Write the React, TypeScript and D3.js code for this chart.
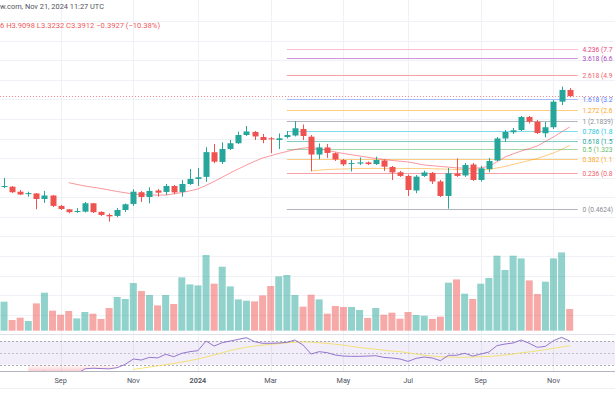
import * as React from 'react';
import * as d3 from 'd3';
import {Component} from 'react';

const chartWidth = 615;
const chartHeight = 410;

// weekly candles from Jul 17 2023 to Nov 18 2024
const weeks: Date[] = d3.timeMonday.range(new Date(2023, 6, 17), new Date(2024, 10, 19));

const opens = [0.679, 0.683, 0.625, 0.604, 0.606, 0.549, 0.584, 0.486, 0.457, 0.441,
    0.439, 0.509, 0.437, 0.414, 0.407, 0.452, 0.503, 0.619, 0.569, 0.638,
    0.622, 0.691, 0.622, 0.716, 0.783, 0.812, 1.256, 1.058, 1.331, 1.473,
    1.704, 1.799, 1.646, 1.607, 1.560, 1.646, 1.690, 1.896, 1.655, 1.206,
    1.368, 1.234, 1.095, 1.019, 1.028, 1.049, 1.019, 1.086, 0.968, 0.881,
    0.826, 0.638, 0.826, 0.871, 0.749, 0.579, 0.863, 0.833, 1.011, 0.769,
    0.932, 1.086, 1.603, 1.789, 1.862, 2.346, 2.158, 1.758, 1.955, 3.075,
    3.784];
const highs = [0.797, 0.691, 0.644, 0.625, 0.609, 0.633, 0.589, 0.494, 0.460, 0.467,
    0.521, 0.512, 0.441, 0.425, 0.467, 0.507, 0.652, 0.633, 0.675, 0.656,
    0.716, 0.703, 0.769, 0.934, 0.951, 1.372, 1.454, 1.499, 1.560, 1.808,
    2.000, 1.830, 1.736, 1.646, 1.751, 1.830, 2.1839, 2.053, 1.704, 1.467,
    1.454, 1.252, 1.115, 1.095, 1.145, 1.067, 1.161, 1.105, 0.985, 0.902,
    0.847, 0.840, 0.906, 0.886, 0.769, 0.951, 1.127, 1.039, 1.039, 0.985,
    1.133, 1.646, 1.862, 1.931, 2.387, 2.387, 2.222, 2.147, 3.166, 4.010,
    3.9098];
const lows = [0.667, 0.611, 0.589, 0.572, 0.458, 0.512, 0.477, 0.452, 0.427, 0.429,
    0.433, 0.429, 0.407, 0.368, 0.398, 0.437, 0.486, 0.521, 0.509, 0.572,
    0.589, 0.599, 0.572, 0.703, 0.691, 0.743, 1.034, 1.021, 1.307, 1.454,
    1.675, 1.560, 1.473, 1.236, 1.331, 1.603, 1.661, 1.560, 0.897, 1.108,
    1.136, 1.076, 0.985, 0.894, 1.002, 1.002, 1.002, 0.902, 0.769, 0.812,
    0.579, 0.609, 0.812, 0.716, 0.569, 0.4624, 0.812, 0.812, 0.756, 0.747,
    0.882, 1.076, 1.507, 1.736, 1.830, 2.090, 1.736, 1.638, 1.896, 2.898,
    3.3232];
const closes = [0.691, 0.619, 0.594, 0.609, 0.549, 0.584, 0.486, 0.460, 0.435, 0.444,
    0.509, 0.435, 0.414, 0.404, 0.452, 0.500, 0.625, 0.569, 0.633, 0.614,
    0.691, 0.617, 0.716, 0.783, 0.807, 1.259, 1.063, 1.331, 1.473, 1.704,
    1.815, 1.661, 1.560, 1.579, 1.607, 1.704, 1.920, 1.675, 1.206, 1.368,
    1.240, 1.105, 1.014, 1.037, 1.050, 1.019, 1.095, 0.973, 0.878, 0.826,
    0.644, 0.816, 0.878, 0.749, 0.579, 0.866, 0.826, 1.002, 0.769, 0.945,
    1.076, 1.603, 1.799, 1.852, 2.346, 2.158, 1.767, 1.955, 3.075, 3.784,
    3.3912];
// volume in millions
const volumes = [29, 10.7, 13, 9.7, 27.3, 38, 20, 16, 19.7, 12.3,
    18.7, 17, 11.7, 22.7, 33.7, 31.7, 47.7, 39.7, 35.7, 25.3,
    35.7, 26.7, 53.3, 46.3, 45.3, 75.7, 47, 64, 44.3, 31.3,
    30, 29.3, 35.3, 44.7, 54.3, 55.7, 35.7, 24, 36, 31.3,
    17, 24.7, 23.7, 23.7, 20.7, 12.7, 22.7, 16, 18, 12,
    18.7, 15.7, 15, 11.7, 14, 48, 51.3, 37, 31.7, 47,
    52.7, 75, 60.7, 75, 72.3, 50.3, 36.7, 49, 72.3, 78.3,
    21.7];
const sma20 = [null, null, null, null, null, null, null, null, 0.733, 0.711,
    0.691, 0.676, 0.661, 0.644, 0.627, 0.613, 0.600, 0.594, 0.589, 0.588,
    0.589, 0.601, 0.616, 0.634, 0.656, 0.699, 0.749, 0.807, 0.871, 0.935,
    1.002, 1.068, 1.135, 1.180, 1.229, 1.272, 1.319, 1.350, 1.372, 1.335,
    1.296, 1.262, 1.229, 1.202, 1.176, 1.150, 1.125, 1.105, 1.086, 1.072,
    1.058, 1.030, 1.002, 0.990, 0.977, 0.965, 0.952, 0.948, 0.943, 0.955,
    0.977, 1.060, 1.155, 1.220, 1.283, 1.340, 1.404, 1.520, 1.646, 1.799,
    1.965];
const sma50 = [null, null, null, null, null, null, null, null, null, null,
    null, null, null, null, null, null, null, null, null, null,
    null, null, null, null, null, null, null, null, null, null,
    null, null, null, null, null, null, null, null, 0.902, 0.914,
    0.926, 0.930, 0.934, 0.938, 0.943, 0.943, 0.943, 0.943, 0.943, 0.943,
    0.943, 0.943, 0.943, 0.938, 0.934, 0.930, 0.926, 0.921, 0.917, 0.921,
    0.926, 0.950, 0.977, 1.012, 1.049, 1.086, 1.125, 1.180, 1.240, 1.319,
    1.416];
const rsi = [null, null, null, 16, 14, 19, 15, 13, 12, 14,
    23, 24, 23.5, 23, 25, 30.6, 39.6, 37.9, 42.4, 41.5,
    47.5, 43.5, 49.2, 52, 53.7, 70, 61.5, 67.2, 70, 72.8,
    75.6, 68.9, 66.1, 66.1, 66.6, 67.7, 71.7, 63.2, 48, 52,
    50.3, 46.3, 44.6, 44.1, 44.1, 44.6, 45.2, 42.4, 41.3, 39.6,
    35.6, 40.7, 43, 41.3, 36.8, 45.8, 45.8, 49.2, 44.6, 48,
    51.4, 62.1, 64.9, 66.6, 71.7, 66.1, 59.3, 61, 70.6, 76.2,
    70];
const rsiMa = [null, null, null, null, null, null, null, null, null, null,
    null, null, null, null, null, null, 22, 24, 26, 28,
    30, 32, 34.5, 37, 39.5, 43, 46.5, 50, 54, 57,
    59.5, 61.5, 63, 64.5, 65.5, 67, 68, 68.5, 68, 67,
    66, 64.5, 63, 61, 59, 57.5, 56, 54.5, 53, 52,
    50, 48, 46, 44.5, 43.5, 43, 42.5, 42.5, 43, 43.5,
    44, 45, 46.5, 48, 50, 51.5, 53.5, 55.5, 57.5, 60,
    62];

const fibRatios = ['0', '0.236', '0.382', '0.5', '0.618', '0.786', '1', '1.272', '1.618', '2.618', '3.618', '4.236'];
const fibPrices = [0.4624, 0.8687, 1.1200, 1.3232, 1.5263, 1.8155, 2.1839, 2.6521, 3.2478, 4.9693, 6.6908, 7.7547];
const fibLineColors = ['#b2b5be', '#f7a1a8', '#ffcc80', '#a5d6a7', '#80cbc4', '#80deea', '#b2b5be', '#ffcc80', '#a8bbff', '#f7a1a8', '#ce93d8', '#f8bbd0'];
const fibTextColors = ['#8a8d96', '#f0606c', '#ffa726', '#66bb6a', '#26a69a', '#26c6da', '#8a8d96', '#ffa726', '#5b7cfa', '#f0606c', '#ab47bc', '#ec407a'];

const monthTicks = [new Date(2023, 8, 4), new Date(2023, 10, 6), new Date(2024, 0, 1), new Date(2024, 2, 4),
    new Date(2024, 4, 6), new Date(2024, 6, 1), new Date(2024, 8, 2), new Date(2024, 10, 4)];
const monthLabels = ['Sep', 'Nov', '2024', 'Mar', 'May', 'Jul', 'Sep', 'Nov'];
const priceGrid = [0.0707, 0.1, 0.1414, 0.2, 0.2828, 0.4, 0.5657, 0.8, 1.1314, 1.6, 2.2627, 3.2, 4.5255, 6.4, 9.051, 12.8];
const rsiLevels = [70, 50, 30];

const headerTop = 'w.com, Nov 21, 2024 11:27 UTC';
const headerOhlc = '6 H3.9098 L3.3232 C3.3912 \u22120.3927 (\u221210.38%)';

const upColor = '#26a69a';
const downColor = '#ef5350';
const font = 'Roboto, sans-serif';
const fibLabelX = 582.5;

export default class App extends Component {
    private svgRef = React.createRef<SVGSVGElement>();

    componentDidMount(): void {
        const svg = d3.select(this.svgRef.current);
        svg.selectAll('*').remove();

        const x = d3.scaleBand<Date>().domain(weeks).range([0, 573.7]);
        const cx = (i: number) => (x(weeks[i]) as number) + x.step() / 2;
        const xDate = (d: Date) => (x(d) as number) + x.step() / 2;
        const yPrice = d3.scaleLog().domain([0.4624, 2.1839]).range([208.7, 121]);
        const yVol = d3.scaleLinear().domain([0, 80]).range([330.7, 250.7]);
        const yRsi = d3.scaleLinear().domain([30, 70]).range([364.7, 341]);

        appendDefs(svg, yRsi);
        appendGrid(svg, xDate, yPrice);
        appendVolume(svg, cx, yVol);
        appendFib(svg, cx, x.step(), yPrice);
        appendAverages(svg, cx, yPrice);
        appendCandles(svg, cx, yPrice);
        appendRsi(svg, cx, yRsi);
        appendTimeAxis(svg, xDate);
        appendHeader(svg);
    }

    render() {
        return (
            <svg ref={this.svgRef} width={chartWidth} height={chartHeight}
                 viewBox={`0 0 ${chartWidth} ${chartHeight}`}
                 style={{position: 'absolute', left: 0, top: 0, background: '#ffffff'}}>
            </svg>
        );
    }
}

function appendDefs(svg: any, yRsi: any) {
    const defs = svg.append('defs');
    defs.append('clipPath').attr('id', 'main-clip')
        .append('rect').attr('x', 0).attr('y', 0).attr('width', chartWidth).attr('height', 334);
    defs.append('clipPath').attr('id', 'rsi-clip')
        .append('rect').attr('x', 0).attr('y', 335).attr('width', chartWidth).attr('height', 36.3);

    const os = defs.append('linearGradient').attr('id', 'oversold')
        .attr('gradientUnits', 'userSpaceOnUse')
        .attr('x1', 0).attr('x2', 0).attr('y1', yRsi(30)).attr('y2', yRsi(0));
    os.append('stop').attr('offset', 0).attr('stop-color', '#f23645').attr('stop-opacity', 0);
    os.append('stop').attr('offset', 1).attr('stop-color', '#f23645').attr('stop-opacity', 0.7);

    const ob = defs.append('linearGradient').attr('id', 'overbought')
        .attr('gradientUnits', 'userSpaceOnUse')
        .attr('x1', 0).attr('x2', 0).attr('y1', yRsi(70)).attr('y2', yRsi(100));
    ob.append('stop').attr('offset', 0).attr('stop-color', '#089981').attr('stop-opacity', 0);
    ob.append('stop').attr('offset', 1).attr('stop-color', '#089981').attr('stop-opacity', 0.7);
}

function appendGrid(svg: any, xDate: any, yPrice: any) {
    const grid = svg.append('g');
    grid.append('g').attr('clip-path', 'url(#main-clip)')
        .selectAll('line').data(priceGrid).enter().append('line')
        .attr('x1', 0).attr('x2', chartWidth)
        .attr('y1', (d: number) => Math.round(yPrice(d)) + 0.5)
        .attr('y2', (d: number) => Math.round(yPrice(d)) + 0.5)
        .attr('stroke', '#eef1f6');
    grid.selectAll('line.v').data(monthTicks).enter().append('line')
        .attr('class', 'v')
        .attr('x1', (d: Date) => Math.round(xDate(d)) + 0.5)
        .attr('x2', (d: Date) => Math.round(xDate(d)) + 0.5)
        .attr('y1', 0).attr('y2', 371)
        .attr('stroke', '#eef1f6');
}

function appendVolume(svg: any, cx: any, yVol: any) {
    svg.append('g').attr('clip-path', 'url(#main-clip)')
        .selectAll('rect').data(volumes).enter().append('rect')
        .attr('x', (d: number, i: number) => cx(i) - 3.5)
        .attr('width', 7)
        .attr('y', (d: number) => yVol(d))
        .attr('height', (d: number) => yVol(0) - yVol(d))
        .attr('fill', (d: number, i: number) => closes[i] >= opens[i] ? upColor : downColor)
        .attr('fill-opacity', 0.5);
}

function appendFib(svg: any, cx: any, step: number, yPrice: any) {
    const g = svg.append('g');
    const x1 = cx(35);
    const x2 = cx(weeks.length - 1) + step;
    fibPrices.forEach((p: number, i: number) => {
        const yy = Math.round(yPrice(p)) + 0.5;
        g.append('line')
            .attr('x1', x1).attr('x2', x2).attr('y1', yy).attr('y2', yy)
            .attr('stroke', fibLineColors[i]).attr('stroke-width', 1.2);
        const label = g.append('text')
            .attr('x', fibLabelX).attr('y', yy + 2.4)
            .attr('font-family', font).attr('font-size', 6.7)
            .attr('fill', fibTextColors[i]);
        // the chart is cropped at the right, so only the part of the label that fits is shown
        let s = `${fibRatios[i]} (${p.toFixed(4)})`;
        label.text(s);
        const node = label.node();
        while (s.length > 1 && node.getComputedTextLength() > chartWidth - fibLabelX) {
            s = s.slice(0, -1);
            label.text(s);
        }
    });
    // last price line
    const yc = Math.round(yPrice(closes[closes.length - 1])) + 0.5;
    g.append('line')
        .attr('x1', 0).attr('x2', chartWidth).attr('y1', yc).attr('y2', yc)
        .attr('stroke', '#f23645').attr('stroke-opacity', 0.6)
        .attr('stroke-dasharray', '1,2');
}

function appendAverages(svg: any, cx: any, yPrice: any) {
    const line = d3.line<any>()
        .defined((d: any) => d != null)
        .x((d: any, i: number) => cx(i))
        .y((d: any) => yPrice(d));
    const g = svg.append('g').attr('clip-path', 'url(#main-clip)');
    g.append('path').attr('d', line(sma20)).attr('fill', 'none')
        .attr('stroke', '#f7525f').attr('stroke-opacity', 0.6).attr('stroke-width', 1);
    g.append('path').attr('d', line(sma50)).attr('fill', 'none')
        .attr('stroke', '#ff9800').attr('stroke-opacity', 0.5).attr('stroke-width', 1);
}

function appendCandles(svg: any, cx: any, yPrice: any) {
    const g = svg.append('g').attr('clip-path', 'url(#main-clip)');
    const candles = g.selectAll('g').data(weeks).enter().append('g');
    const color = (i: number) => closes[i] >= opens[i] ? upColor : downColor;
    candles.append('line')
        .attr('x1', (d: Date, i: number) => Math.round(cx(i)) + 0.5)
        .attr('x2', (d: Date, i: number) => Math.round(cx(i)) + 0.5)
        .attr('y1', (d: Date, i: number) => yPrice(highs[i]))
        .attr('y2', (d: Date, i: number) => yPrice(lows[i]))
        .attr('stroke', (d: Date, i: number) => color(i));
    candles.append('rect')
        .attr('x', (d: Date, i: number) => Math.round(cx(i)) - 2.5)
        .attr('width', 6)
        .attr('y', (d: Date, i: number) => yPrice(Math.max(opens[i], closes[i])))
        .attr('height', (d: Date, i: number) => Math.max(1, yPrice(Math.min(opens[i], closes[i])) - yPrice(Math.max(opens[i], closes[i]))))
        .attr('fill', (d: Date, i: number) => color(i));
}

function appendRsi(svg: any, cx: any, yRsi: any) {
    svg.append('line').attr('x1', 0).attr('x2', chartWidth).attr('y1', 334.5).attr('y2', 334.5)
        .attr('stroke', '#e0e3eb');
    const g = svg.append('g').attr('clip-path', 'url(#rsi-clip)');
    g.append('rect').attr('x', 0).attr('width', chartWidth)
        .attr('y', yRsi(70)).attr('height', yRsi(30) - yRsi(70))
        .attr('fill', '#7e57c2').attr('fill-opacity', 0.1);
    g.selectAll('line.level').data(rsiLevels).enter().append('line')
        .attr('class', 'level')
        .attr('x1', 0).attr('x2', chartWidth)
        .attr('y1', (d: number) => Math.round(yRsi(d)) + 0.5)
        .attr('y2', (d: number) => Math.round(yRsi(d)) + 0.5)
        .attr('stroke', '#787b86')
        .attr('stroke-opacity', (d: number) => d === 50 ? 0.4 : 0.6)
        .attr('stroke-dasharray', '2,2');

    const low = d3.area<any>()
        .defined((d: any) => d != null)
        .x((d: any, i: number) => cx(i))
        .y0(yRsi(30))
        .y1((d: any) => yRsi(Math.min(d, 30)));
    g.append('path').attr('d', low(rsi)).attr('fill', 'url(#oversold)');
    const high = d3.area<any>()
        .defined((d: any) => d != null)
        .x((d: any, i: number) => cx(i))
        .y0(yRsi(70))
        .y1((d: any) => yRsi(Math.max(d, 70)));
    g.append('path').attr('d', high(rsi)).attr('fill', 'url(#overbought)');

    const line = d3.line<any>()
        .defined((d: any) => d != null)
        .x((d: any, i: number) => cx(i))
        .y((d: any) => yRsi(d));
    g.append('path').attr('d', line(rsiMa)).attr('fill', 'none')
        .attr('stroke', '#f2dd55').attr('stroke-opacity', 0.8).attr('stroke-width', 1);
    g.append('path').attr('d', line(rsi)).attr('fill', 'none')
        .attr('stroke', '#7e57c2').attr('stroke-opacity', 0.8).attr('stroke-width', 1);
}

function appendTimeAxis(svg: any, xDate: any) {
    svg.append('line').attr('x1', 0).attr('x2', chartWidth).attr('y1', 371.5).attr('y2', 371.5)
        .attr('stroke', '#b2b5be').attr('stroke-width', 1.2);
    svg.append('line').attr('x1', 0).attr('x2', chartWidth).attr('y1', 388.5).attr('y2', 388.5)
        .attr('stroke', '#eef0f3');
    svg.append('g').selectAll('text').data(monthTicks).enter().append('text')
        .attr('x', (d: Date) => xDate(d))
        .attr('y', 382.5)
        .attr('text-anchor', 'middle')
        .attr('font-family', font).attr('font-size', 7.3)
        .attr('font-weight', (d: Date, i: number) => monthLabels[i] === '2024' ? 600 : 400)
        .attr('fill', '#50535e')
        .text((d: Date, i: number) => monthLabels[i]);
}

function appendHeader(svg: any) {
    svg.append('text').attr('x', 0).attr('y', 9.3)
        .attr('font-family', font).attr('font-size', 7.4).attr('fill', '#50535e')
        .text(headerTop);
    svg.append('text').attr('x', 0).attr('y', 27.5)
        .attr('font-family', font).attr('font-size', 7.6).attr('fill', '#f05a5a')
        .text(headerOhlc);
}
